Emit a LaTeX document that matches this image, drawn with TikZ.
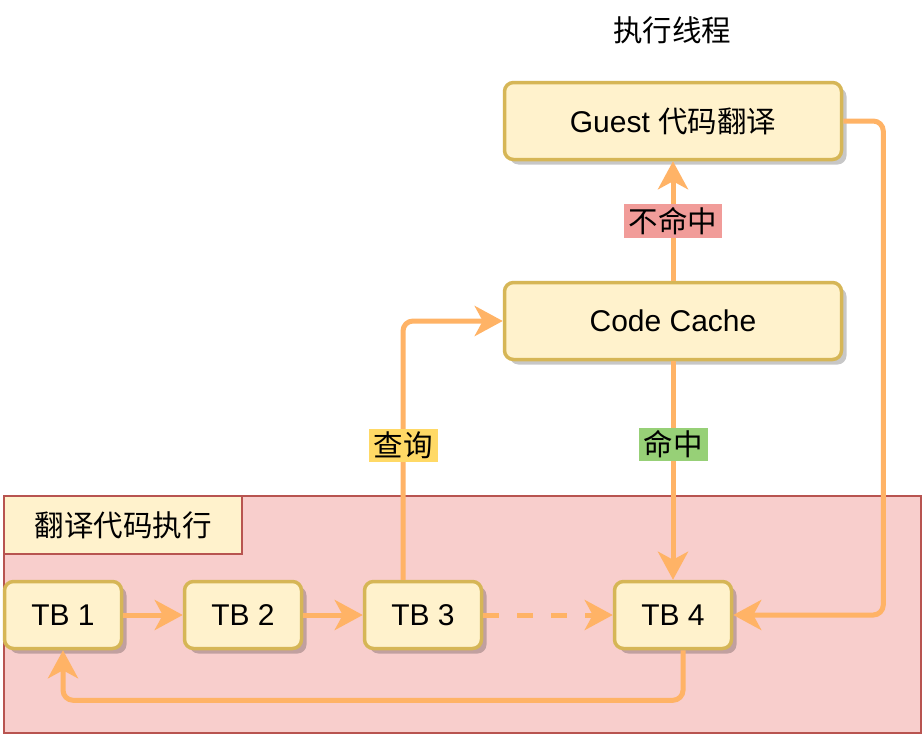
\documentclass[tikz,border=0pt]{standalone}
\usepackage{fontspec}
\setmainfont{Liberation Sans}
\newfontfamily\cjk{Noto Sans CJK SC}
\usetikzlibrary{arrows.meta,shadows}
\definecolor{boxfill}{HTML}{FFF2CC}
\definecolor{boxline}{HTML}{D6B656}
\definecolor{zonefill}{HTML}{F8CECC}
\definecolor{zoneline}{HTML}{B85450}
\definecolor{flow}{HTML}{FFB366}
\definecolor{askbg}{HTML}{FFD966}
\definecolor{hitbg}{HTML}{97D077}
\definecolor{missbg}{HTML}{F19C99}
\tikzset{
	blk/.style={draw=boxline,fill=boxfill,line width=3.5pt,rounded corners=9pt,
		drop shadow={shadow xshift=5pt,shadow yshift=-5pt,fill=black,opacity=0.22},
		font=\fontsize{30}{36}\selectfont},
	tb/.style={blk,minimum width=117pt,minimum height=67pt,inner sep=0pt},
	big/.style={blk,minimum width=337pt,minimum height=77pt,inner sep=0pt},
	flw/.style={draw=flow,line width=5pt,rounded corners=10pt,
		-{Stealth[length=28pt,width=30pt,inset=8pt]}},
	tag/.style={sharp corners,font=\cjk\fontsize{29.5}{35}\selectfont,inner xsep=5pt,inner ysep=3pt}
}
\begin{document}
\begin{tikzpicture}[x=1pt,y=-1pt]
		\useasboundingbox[fill=white](0,0) rectangle (924,736);
		% execution zone
		\node[draw=zoneline,fill=zonefill,line width=2pt,minimum width=917pt,minimum height=237pt,inner sep=0pt] (zone) at (462.5,614.5) {};
		\node[draw=zoneline,fill=boxfill,line width=2pt,minimum width=238pt,minimum height=58pt,inner sep=0pt,font=\cjk\fontsize{29.5}{35}\selectfont] (zonename) at (123,525) {翻译代码执行};
		\node[tb] (tb1) at (63,615) {TB 1};
		\node[tb] (tb2) at (243,615) {TB 2};
		\node[tb] (tb3) at (423,615) {TB 3};
		\node[tb] (tb4) at (673,615) {TB 4};
		% thread
		\node[tag] (title) at (672,30) {执行线程};
		\node[big] (guest) at (673,121) {Guest {\cjk\fontsize{29.5}{35}\selectfont 代码翻译}};
		\node[big] (cache) at (673,321) {Code Cache};
		% flow
		\draw[flw] (tb1) -- (tb2);
		\draw[flw] (tb2) -- (tb3);
		\draw[flw,dash pattern=on 16pt off 18pt] (tb3) -- (tb4);
		\draw[flw] ([xshift=-20pt]tb3.north) |- node[tag,fill=askbg,pos=0.26]{查询} (cache.west);
		\draw[flw] (cache) -- node[tag,fill=hitbg,pos=0.38]{命中} (tb4);
		\draw[flw] (cache) -- node[tag,fill=missbg]{不命中} (guest);
		\draw[flw] (guest.east) -- ++(40,0) |- (tb4.east);
		\draw[flw] ([xshift=10pt]tb4.south) -- ++(0,50) -| (tb1.south);
\end{tikzpicture}
\end{document}
